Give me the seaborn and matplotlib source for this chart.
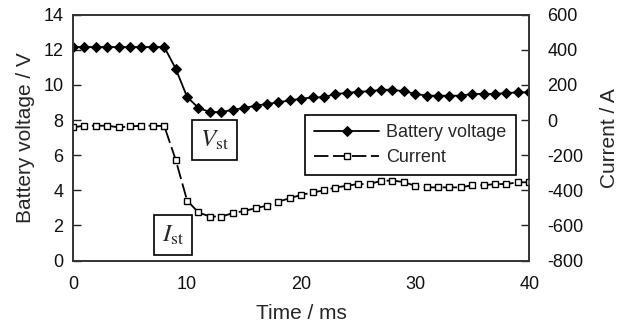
import numpy as np
import pandas as pd
import matplotlib
matplotlib.use('Agg')
import matplotlib.pyplot as plt
import seaborn as sns

# time axis (ms), one sample per ms
time_ms = list(range(0, 41))

# battery voltage (V)
voltage = [12.16, 12.16, 12.16, 12.16, 12.16, 12.16, 12.16, 12.16, 12.16,
           10.93, 9.32, 8.69, 8.46, 8.45, 8.59, 8.69, 8.82, 8.92, 9.01, 9.12,
           9.22, 9.29, 9.30, 9.49, 9.54, 9.62, 9.64, 9.73, 9.73, 9.64,
           9.50, 9.39, 9.39, 9.39, 9.39, 9.49, 9.49, 9.49, 9.54, 9.58, 9.58]

# current (A)
current = [-41, -32, -32, -32, -41, -36, -32, -32, -34,
           -226, -458, -526, -549, -549, -530, -517, -502, -487, -464, -445,
           -426, -412, -400, -384, -374, -364, -364, -346, -344, -353,
           -374, -383, -383, -383, -383, -371, -371, -364, -364, -354, -354]

df = pd.DataFrame({'time': time_ms, 'voltage': voltage, 'current': current})

sns.set_theme(style='white')
plt.rcParams['font.family'] = ['Liberation Sans', 'DejaVu Sans']
plt.rcParams['mathtext.fontset'] = 'stix'
plt.rcParams['axes.unicode_minus'] = False

fig, ax = plt.subplots(figsize=(6.19, 3.27), dpi=100)
ax2 = ax.twinx()

sns.lineplot(data=df, x='time', y='voltage', ax=ax, color='black', lw=1.3,
             marker='D', markersize=5.5, markerfacecolor='black',
             markeredgecolor='black', label='Battery voltage', legend=False)
sns.lineplot(data=df, x='time', y='current', ax=ax2, color='black', lw=1.3,
             linestyle=(0, (8, 2.5)), marker='s', markersize=4.8,
             markerfacecolor='white', markeredgecolor='black',
             markeredgewidth=1.0, label='Current', legend=False)

ax.set_xlim(0, 40)
ax.set_ylim(0, 14)
ax2.set_ylim(-800, 600)
ax.set_xticks([0, 10, 20, 30, 40])
ax.set_yticks(range(0, 15, 2))
ax2.set_yticks(range(-800, 601, 200))

ax.set_xlabel('Time / ms', fontsize=15, labelpad=8)
ax.set_ylabel('Battery voltage / V', fontsize=15, labelpad=6)
ax2.set_ylabel('Current / A', fontsize=15, labelpad=12)

for a in (ax, ax2):
    a.tick_params(direction='in', length=6, width=1, colors='#222222',
                  labelsize=13, labelcolor='#111111')
    for s in a.spines.values():
        s.set_color('#333333')
        s.set_linewidth(1.2)
ax.tick_params(axis='y', pad=7)
ax.tick_params(axis='x', pad=11)
ax2.tick_params(axis='y', pad=13)

# labels in boxes
box = dict(boxstyle='square,pad=0.32', fc='white', ec='black', lw=1.2)
ax.text(12.4, 6.85, r'$V_{\mathrm{st}}$', fontsize=18, ha='center',
        va='center', bbox=box)
ax.text(8.75, 1.45, r'$I_{\mathrm{st}}$', fontsize=18, ha='center',
        va='center', bbox=box)

h1, l1 = ax.get_legend_handles_labels()
h2, l2 = ax2.get_legend_handles_labels()
leg = ax2.legend(h1 + h2, l1 + l2, loc='upper left',
                 bbox_to_anchor=(0.509, 0.593), borderaxespad=0,
                 fontsize=13, frameon=True, fancybox=False,
                 edgecolor='black', framealpha=1, handlelength=3.6,
                 handletextpad=0.4, borderpad=0.5, labelspacing=0.45)
leg.get_frame().set_linewidth(1.2)

fig.subplots_adjust(left=0.118, right=0.855, top=0.955, bottom=0.203)
fig.savefig('out.png', dpi=100)
